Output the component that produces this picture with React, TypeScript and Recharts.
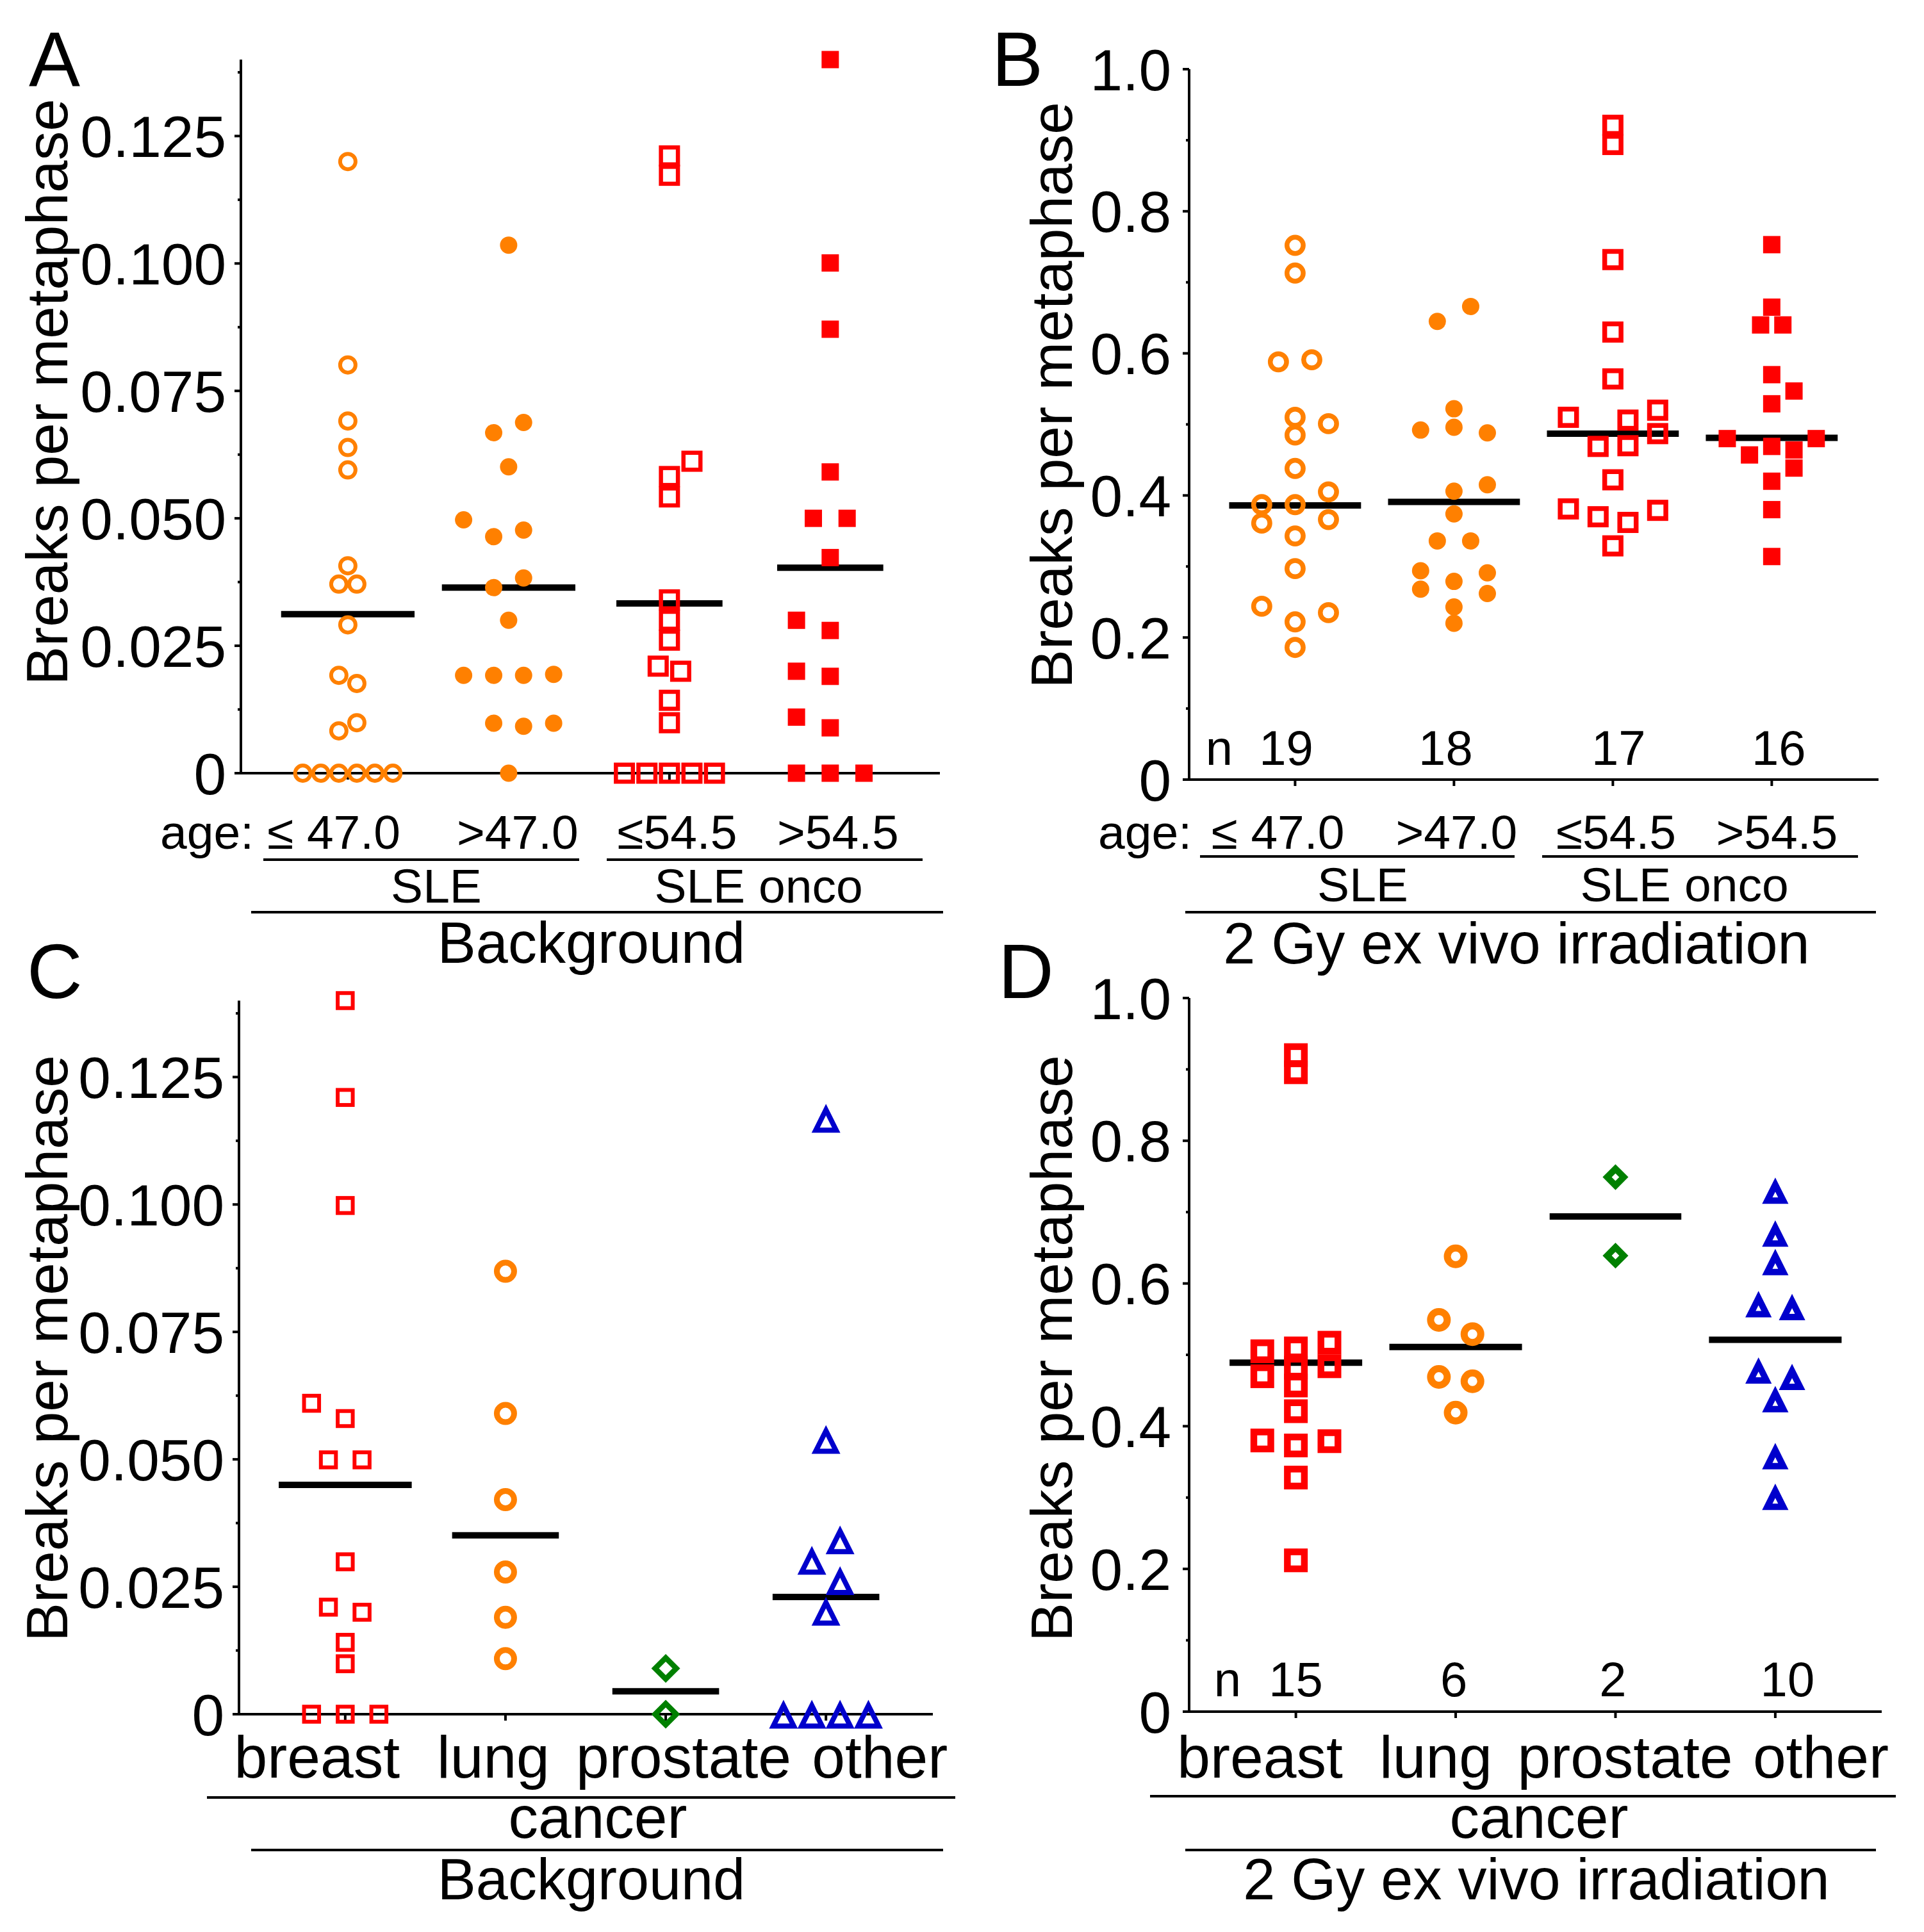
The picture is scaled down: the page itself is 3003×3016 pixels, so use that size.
import React from 'react';
import { ScatterChart, Scatter, XAxis, YAxis, ReferenceLine } from 'recharts';

const FONT = '"Liberation Sans", Arial, Helvetica, sans-serif';
const ORANGE = '#FF8000';
const RED = '#FF0000';
const GREEN = '#008000';
const BLUE = '#0000CC';

// ---------- categories & ticks ----------
const ageCategories = ['≤ 47.0', '>47.0', '≤54.5', '>54.5'];
const cancerCategories = ['breast', 'lung', 'prostate', 'other'];
const groupTicks = [1, 2, 3, 4];

const smallYTicks = [0, 0.0125, 0.025, 0.0375, 0.05, 0.0625, 0.075, 0.0875, 0.1, 0.1125, 0.125, 0.1375];
const smallYTickLabels = ['0', '', '0.025', '', '0.050', '', '0.075', '', '0.100', '', '0.125', ''];
const largeYTicks = [0, 0.1, 0.2, 0.3, 0.4, 0.5, 0.6, 0.7, 0.8, 0.9, 1.0];
const largeYTickLabels = ['0', '', '0.2', '', '0.4', '', '0.6', '', '0.8', '', '1.0'];

// ---------- Panel A: Background, SLE / SLE onco by age ----------
const aSleLow = [
  { x: 1, y: 0.12 }, { x: 1, y: 0.0801 }, { x: 1, y: 0.0691 }, { x: 1, y: 0.0639 }, { x: 1, y: 0.0595 },
  { x: 1, y: 0.0407 }, { x: 0.944, y: 0.0371 }, { x: 1.056, y: 0.0371 }, { x: 1, y: 0.0291 },
  { x: 0.944, y: 0.0192 }, { x: 1.056, y: 0.0176 }, { x: 1.056, y: 0.0099 }, { x: 0.944, y: 0.0083 },
  { x: 0.72, y: 0 }, { x: 0.832, y: 0 }, { x: 0.944, y: 0 }, { x: 1.056, y: 0 }, { x: 1.168, y: 0 }, { x: 1.28, y: 0 },
];
const aSleHigh = [
  { x: 2, y: 0.1036 }, { x: 2.093, y: 0.0688 }, { x: 1.907, y: 0.0668 }, { x: 2, y: 0.0601 }, { x: 1.72, y: 0.0497 },
  { x: 2.093, y: 0.0477 }, { x: 1.907, y: 0.0464 }, { x: 2.093, y: 0.0383 }, { x: 1.907, y: 0.0364 }, { x: 2, y: 0.03 },
  { x: 1.72, y: 0.0192 }, { x: 1.907, y: 0.0192 }, { x: 2.093, y: 0.0192 }, { x: 2.28, y: 0.0194 },
  { x: 1.907, y: 0.0098 }, { x: 2.28, y: 0.0098 }, { x: 2.093, y: 0.0092 }, { x: 2, y: 0 },
];
const aOncoLow = [
  { x: 3, y: 0.1211 }, { x: 3, y: 0.1173 }, { x: 3.14, y: 0.0612 }, { x: 3, y: 0.0582 }, { x: 3, y: 0.0542 },
  { x: 3, y: 0.034 }, { x: 3, y: 0.03 }, { x: 3, y: 0.0261 }, { x: 2.93, y: 0.021 }, { x: 3.07, y: 0.02 },
  { x: 3, y: 0.0143 }, { x: 3, y: 0.0099 },
  { x: 2.72, y: 0 }, { x: 2.86, y: 0 }, { x: 3, y: 0 }, { x: 3.14, y: 0 }, { x: 3.28, y: 0 },
];
const aOncoHigh = [
  { x: 4, y: 0.14 }, { x: 4, y: 0.1001 }, { x: 4, y: 0.0871 }, { x: 4, y: 0.0591 }, { x: 3.895, y: 0.05 },
  { x: 4.105, y: 0.05 }, { x: 4, y: 0.0423 }, { x: 3.79, y: 0.03 }, { x: 4, y: 0.028 }, { x: 3.79, y: 0.02 },
  { x: 4, y: 0.019 }, { x: 3.79, y: 0.011 }, { x: 4, y: 0.0089 }, { x: 3.79, y: 0 }, { x: 4, y: 0 }, { x: 4.21, y: 0 },
];
const aMeans = [0.0312, 0.0364, 0.0333, 0.0403];

// ---------- Panel B: 2 Gy, SLE / SLE onco by age ----------
const bSleLow = [
  { x: 1, y: 0.752 }, { x: 1, y: 0.713 }, { x: 0.895, y: 0.588 }, { x: 1.105, y: 0.591 }, { x: 1, y: 0.51 },
  { x: 1.21, y: 0.501 }, { x: 1, y: 0.485 }, { x: 1, y: 0.438 }, { x: 1.21, y: 0.405 }, { x: 0.79, y: 0.387 },
  { x: 1, y: 0.387 }, { x: 1.21, y: 0.366 }, { x: 0.79, y: 0.361 }, { x: 1, y: 0.343 }, { x: 1, y: 0.297 },
  { x: 0.79, y: 0.244 }, { x: 1.21, y: 0.235 }, { x: 1, y: 0.222 }, { x: 1, y: 0.186 },
];
const bSleHigh = [
  { x: 2.105, y: 0.666 }, { x: 1.895, y: 0.645 }, { x: 2, y: 0.522 }, { x: 2, y: 0.496 }, { x: 1.79, y: 0.492 },
  { x: 2.21, y: 0.488 }, { x: 2.21, y: 0.415 }, { x: 2, y: 0.406 }, { x: 2, y: 0.374 }, { x: 1.895, y: 0.336 },
  { x: 2.105, y: 0.336 }, { x: 1.79, y: 0.294 }, { x: 2.21, y: 0.291 }, { x: 2, y: 0.279 }, { x: 1.79, y: 0.268 },
  { x: 2.21, y: 0.262 }, { x: 2, y: 0.243 }, { x: 2, y: 0.22 },
];
const bOncoLow = [
  { x: 3, y: 0.921 }, { x: 3, y: 0.894 }, { x: 3, y: 0.732 }, { x: 3, y: 0.63 }, { x: 3, y: 0.564 },
  { x: 3.282, y: 0.52 }, { x: 2.72, y: 0.51 }, { x: 3.095, y: 0.506 }, { x: 3.282, y: 0.487 }, { x: 2.907, y: 0.469 },
  { x: 3.095, y: 0.47 }, { x: 3, y: 0.422 }, { x: 2.72, y: 0.381 }, { x: 3.282, y: 0.379 }, { x: 2.907, y: 0.37 },
  { x: 3.095, y: 0.362 }, { x: 3, y: 0.329 },
];
const bOncoHigh = [
  { x: 4, y: 0.753 }, { x: 4, y: 0.665 }, { x: 3.93, y: 0.64 }, { x: 4.07, y: 0.64 }, { x: 4, y: 0.57 },
  { x: 4.14, y: 0.547 }, { x: 4, y: 0.529 }, { x: 3.72, y: 0.48 }, { x: 4.28, y: 0.48 }, { x: 4, y: 0.469 },
  { x: 4.14, y: 0.464 }, { x: 3.86, y: 0.457 }, { x: 4.14, y: 0.4385 }, { x: 4, y: 0.42 }, { x: 4, y: 0.38 },
  { x: 4, y: 0.314 },
];
const bMeans = [0.386, 0.391, 0.487, 0.481];

// ---------- Panel C: Background, cancer types ----------
const cBreast = [
  { x: 1, y: 0.14 }, { x: 1, y: 0.121 }, { x: 1, y: 0.0998 }, { x: 0.79, y: 0.061 }, { x: 1, y: 0.058 },
  { x: 0.895, y: 0.0499 }, { x: 1.105, y: 0.0499 }, { x: 1, y: 0.0299 }, { x: 0.895, y: 0.021 }, { x: 1.105, y: 0.02 },
  { x: 1, y: 0.0141 }, { x: 1, y: 0.0099 }, { x: 0.79, y: 0 }, { x: 1, y: 0 }, { x: 1.21, y: 0 },
];
const cLung = [
  { x: 2, y: 0.0869 }, { x: 2, y: 0.059 }, { x: 2, y: 0.0421 }, { x: 2, y: 0.0279 }, { x: 2, y: 0.019 }, { x: 2, y: 0.0109 },
];
const cProstate = [{ x: 3, y: 0.009 }, { x: 3, y: 0 }];
const cOther = [
  { x: 4, y: 0.1169 }, { x: 4, y: 0.0539 }, { x: 4.088, y: 0.0342 }, { x: 3.912, y: 0.0302 }, { x: 4.088, y: 0.0262 },
  { x: 4, y: 0.0202 }, { x: 3.735, y: 0 }, { x: 3.912, y: 0 }, { x: 4.088, y: 0 }, { x: 4.265, y: 0 },
];
const cMeans = [0.045, 0.0351, 0.0045, 0.023];

// ---------- Panel D: 2 Gy, cancer types ----------
const dBreast = [
  { x: 1, y: 0.92 }, { x: 1, y: 0.896 }, { x: 1.21, y: 0.517 }, { x: 0.79, y: 0.505 }, { x: 1, y: 0.509 },
  { x: 1.21, y: 0.484 }, { x: 1, y: 0.482 }, { x: 0.79, y: 0.47 }, { x: 1, y: 0.457 }, { x: 1, y: 0.421 },
  { x: 0.79, y: 0.38 }, { x: 1.21, y: 0.379 }, { x: 1, y: 0.373 }, { x: 1, y: 0.328 }, { x: 1, y: 0.212 },
];
const dLung = [
  { x: 2, y: 0.638 }, { x: 1.895, y: 0.549 }, { x: 2.105, y: 0.529 }, { x: 1.895, y: 0.469 }, { x: 2.105, y: 0.463 }, { x: 2, y: 0.419 },
];
const dProstate = [{ x: 3, y: 0.749 }, { x: 3, y: 0.639 }];
const dOther = [
  { x: 4, y: 0.73 }, { x: 4, y: 0.67 }, { x: 4, y: 0.63 }, { x: 3.895, y: 0.571 }, { x: 4.105, y: 0.567 },
  { x: 3.895, y: 0.478 }, { x: 4.105, y: 0.469 }, { x: 4, y: 0.438 }, { x: 4, y: 0.358 }, { x: 4, y: 0.301 },
];
const dMeans = [0.489, 0.511, 0.694, 0.521];

// ---------- styling ----------
type Marker = { kind: 'circle' | 'square' | 'diamond' | 'triangle'; size: number; width: number; filled: boolean; color: string };

function renderMarker(m: Marker, cx: number, cy: number) {
  if (cx == null || cy == null || isNaN(cx) || isNaN(cy)) return <g />;
  const fill = m.filled ? m.color : 'none';
  const stroke = m.filled ? 'none' : m.color;
  const sw = m.filled ? 0 : m.width;
  if (m.kind === 'circle') {
    return <circle cx={cx} cy={cy} r={m.size} fill={fill} stroke={stroke} strokeWidth={sw} />;
  }
  if (m.kind === 'square') {
    const s = m.size;
    return <rect x={cx - s / 2} y={cy - s / 2} width={s} height={s} fill={fill} stroke={stroke} strokeWidth={sw} strokeLinejoin="miter" />;
  }
  if (m.kind === 'diamond') {
    const h = m.size;
    return (
      <path d={`M${cx},${cy - h}L${cx + h},${cy}L${cx},${cy + h}L${cx - h},${cy}Z`} fill={fill} stroke={stroke} strokeWidth={sw} strokeLinejoin="miter" />
    );
  }
  // triangle, bounding box centred on the point
  const W = m.size;
  const H = m.size;
  const theta = Math.atan(W / 2 / H);
  const ext = sw / 2 / Math.sin(theta);
  const shift = (ext - sw / 2) / 2;
  const apex = cy - H / 2 + shift;
  const base = cy + H / 2 + shift;
  return (
    <path d={`M${cx},${apex}L${cx + W / 2},${base}L${cx - W / 2},${base}Z`} fill={fill} stroke={stroke} strokeWidth={sw} strokeLinejoin="miter" strokeMiterlimit={10} />
  );
}

const makeYTick = (ticks: number[], labels: string[], gap: number, fs: number) => (props: any) => {
  const { x, y, payload } = props;
  const i = ticks.findIndex((t) => Math.abs(t - payload.value) < 1e-9);
  const label = i >= 0 ? labels[i] : '';
  const major = label !== '';
  return (
    <g>
      <line x1={x + (major ? 0 : 5)} x2={x + 10} y1={y} y2={y} stroke="#000" strokeWidth={4} />
      {major && (
        <text x={x - gap} y={y + fs * 0.358} textAnchor="end" fontSize={fs} fontFamily={FONT} fill="#000">
          {label}
        </text>
      )}
    </g>
  );
};

const makeXTick = (labels: string[], dx: number[], dy: number, fs: number) => (props: any) => {
  const { x, y, payload } = props;
  const i = Math.round(payload.value) - 1;
  return (
    <text x={x + (dx[i] || 0)} y={y + dy} textAnchor="middle" fontSize={fs} fontFamily={FONT} fill="#000">
      {labels[i]}
    </text>
  );
};

type Series = { data: { x: number; y: number }[]; marker: Marker };

type PanelProps = {
  left: number; top: number; width: number; height: number;
  margin: { top: number; right: number; bottom: number; left: number };
  xDomain: [number, number]; yDomain: [number, number];
  yTicks: number[]; yLabels: string[]; yGap: number;
  xLabels: string[]; xDx: number[]; xDy: number; xFont: number;
  series: Series[]; means: number[]; meanHalf: number[];
  showCounts?: boolean; countY?: number; countDx?: number[];
};

function Panel(p: PanelProps) {
  const counts = p.series.map((s, i) => ({ x: groupTicks[i], y: p.countY ?? 0, n: s.data.length }));
  return (
    <div style={{ position: 'absolute', left: p.left, top: p.top, width: p.width, height: p.height }}>
      <ScatterChart width={p.width} height={p.height} margin={p.margin} style={{ fontFamily: FONT }}>
        <XAxis
          type="number"
          dataKey="x"
          domain={p.xDomain}
          ticks={groupTicks}
          interval={0}
          height={100}
          tickSize={10}
          tickMargin={0}
          axisLine={{ stroke: '#000', strokeWidth: 4 }}
          tickLine={{ stroke: '#000', strokeWidth: 4 }}
          tick={makeXTick(p.xLabels, p.xDx, p.xDy, p.xFont)}
        />
        <YAxis
          type="number"
          dataKey="y"
          domain={p.yDomain}
          ticks={p.yTicks}
          interval={0}
          width={200}
          tickSize={10}
          tickMargin={0}
          axisLine={{ stroke: '#000', strokeWidth: 4 }}
          tickLine={false}
          tick={makeYTick(p.yTicks, p.yLabels, p.yGap, 91)}
        />
        {p.series.map((s, i) => (
          <Scatter
            key={'s' + i}
            data={s.data}
            isAnimationActive={false}
            shape={(props: any) => renderMarker(s.marker, props.cx, props.cy)}
          />
        ))}
        {p.means.map((m, i) => (
          <ReferenceLine
            key={'m' + i}
            segment={[{ x: groupTicks[i] - p.meanHalf[i], y: m }, { x: groupTicks[i] + p.meanHalf[i], y: m }]}
            stroke="#000"
            strokeWidth={10}
            ifOverflow="visible"
          />
        ))}
        {p.showCounts && (
          <Scatter
            data={counts}
            isAnimationActive={false}
            shape={(props: any) => {
              const i = Math.round(props.payload.x) - 1;
              return (
                <text x={props.cx + ((p.countDx && p.countDx[i]) || 0)} y={props.cy} textAnchor="middle" fontSize={76} fontFamily={FONT} fill="#000">
                  {props.payload.n}
                </text>
              );
            }}
          />
        )}
      </ScatterChart>
    </div>
  );
}

const T = (props: any) => <text fontFamily={FONT} fill="#000" {...props} />;
const L = (props: any) => <line stroke="#000" strokeWidth={4} {...props} />;

export default function App() {
  return (
    <div style={{ position: 'absolute', left: 0, top: 0, width: 3003, height: 3016, background: '#fff', overflow: 'hidden' }}>
      <Panel
        left={0} top={0} width={1500} height={1500}
        margin={{ top: 93, right: 33, bottom: 193, left: 176 }}
        xDomain={[0.335, 4.682]} yDomain={[0, 0.14]}
        yTicks={smallYTicks} yLabels={smallYTickLabels} yGap={13}
        xLabels={ageCategories} xDx={[-22, 14, 12, 12]} xDy={108} xFont={75}
        series={[
          { data: aSleLow, marker: { kind: 'circle', size: 12, width: 6, filled: false, color: ORANGE } },
          { data: aSleHigh, marker: { kind: 'circle', size: 13.5, width: 0, filled: true, color: ORANGE } },
          { data: aOncoLow, marker: { kind: 'square', size: 26.5, width: 6.5, filled: false, color: RED } },
          { data: aOncoHigh, marker: { kind: 'square', size: 27, width: 0, filled: true, color: RED } },
        ]}
        means={aMeans} meanHalf={[0.415, 0.415, 0.33, 0.33]}
      />
      <Panel
        left={1500} top={0} width={1503} height={1500}
        margin={{ top: 108, right: 71, bottom: 183, left: 156 }}
        xDomain={[0.333, 4.672]} yDomain={[0, 1]}
        yTicks={largeYTicks} yLabels={largeYTickLabels} yGap={18}
        xLabels={ageCategories} xDx={[-27, 4, 5, 8]} xDy={98} xFont={75}
        series={[
          { data: bSleLow, marker: { kind: 'circle', size: 12.7, width: 7.5, filled: false, color: ORANGE } },
          { data: bSleHigh, marker: { kind: 'circle', size: 13.5, width: 0, filled: true, color: ORANGE } },
          { data: bOncoLow, marker: { kind: 'square', size: 25.5, width: 7.5, filled: false, color: RED } },
          { data: bOncoHigh, marker: { kind: 'square', size: 27, width: 0, filled: true, color: RED } },
        ]}
        means={bMeans} meanHalf={[0.415, 0.415, 0.415, 0.415]}
        showCounts countY={0.0207} countDx={[-14, -13, 9, 11]}
      />
      <Panel
        left={0} top={1500} width={1500} height={1516}
        margin={{ top: 62, right: 44, bottom: 240, left: 173 }}
        xDomain={[0.337, 4.667]} yDomain={[0, 0.14]}
        yTicks={smallYTicks} yLabels={smallYTickLabels} yGap={13}
        xLabels={cancerCategories} xDx={[-44, -19, 28, 84]} xDy={89} xFont={93}
        series={[
          { data: cBreast, marker: { kind: 'square', size: 23.5, width: 6, filled: false, color: RED } },
          { data: cLung, marker: { kind: 'circle', size: 13.5, width: 9, filled: false, color: ORANGE } },
          { data: cProstate, marker: { kind: 'diamond', size: 16.5, width: 8.5, filled: false, color: GREEN } },
          { data: cOther, marker: { kind: 'triangle', size: 32, width: 8, filled: false, color: BLUE } },
        ]}
        means={cMeans} meanHalf={[0.415, 0.333, 0.333, 0.333]}
      />
      <Panel
        left={1500} top={1500} width={1503} height={1516}
        margin={{ top: 58, right: 66, bottom: 244, left: 156 }}
        xDomain={[0.332, 4.666]} yDomain={[0, 1]}
        yTicks={largeYTicks} yLabels={largeYTickLabels} yGap={18}
        xLabels={cancerCategories} xDx={[-56, -31, 15, 71]} xDy={93} xFont={93}
        series={[
          { data: dBreast, marker: { kind: 'square', size: 26.5, width: 10.5, filled: false, color: RED } },
          { data: dLung, marker: { kind: 'circle', size: 13, width: 11, filled: false, color: ORANGE } },
          { data: dProstate, marker: { kind: 'diamond', size: 13, width: 10, filled: false, color: GREEN } },
          { data: dOther, marker: { kind: 'triangle', size: 25, width: 10, filled: false, color: BLUE } },
        ]}
        means={dMeans} meanHalf={[0.415, 0.415, 0.412, 0.415]}
        showCounts countY={0.0215} countDx={[0, -3, -4, 19]}
      />

      <svg width={3003} height={3016} style={{ position: 'absolute', left: 0, top: 0, pointerEvents: 'none' }}>
        {/* Panel A */}
        <T x={45} y={134} fontSize={120}>A</T>
        <T x={105} y={612} fontSize={91} textAnchor="middle" transform="rotate(-90 105 612)">Breaks per metaphase</T>
        <T x={250} y={1325} fontSize={75}>age:</T>
        <L x1={411} x2={904} y1={1342} y2={1342} />
        <L x1={947} x2={1440} y1={1342} y2={1342} />
        <T x={681} y={1409} fontSize={75} textAnchor="middle">SLE</T>
        <T x={1184} y={1409} fontSize={75} textAnchor="middle">SLE onco</T>
        <L x1={392} x2={1472} y1={1424} y2={1424} />
        <T x={923} y={1503} fontSize={90} textAnchor="middle">Background</T>

        {/* Panel B */}
        <T x={1548} y={134} fontSize={120}>B</T>
        <T x={1673} y={617} fontSize={91} textAnchor="middle" transform="rotate(-90 1673 617)">Breaks per metaphase</T>
        <T x={1714} y={1325} fontSize={75}>age:</T>
        <L x1={1873} x2={2364} y1={1337} y2={1337} />
        <L x1={2407} x2={2900} y1={1337} y2={1337} />
        <T x={2127} y={1407} fontSize={75} textAnchor="middle">SLE</T>
        <T x={2629} y={1407} fontSize={75} textAnchor="middle">SLE onco</T>
        <L x1={1850} x2={2928} y1={1424} y2={1424} />
        <T x={2367} y={1504} fontSize={90} textAnchor="middle">2 Gy ex vivo irradiation</T>
        <T x={1903} y={1194} fontSize={76} textAnchor="middle">n</T>

        {/* Panel C */}
        <T x={42} y={1558} fontSize={120}>C</T>
        <T x={105} y={2105} fontSize={91} textAnchor="middle" transform="rotate(-90 105 2105)">Breaks per metaphase</T>
        <L x1={323} x2={1491} y1={2806} y2={2806} />
        <T x={933} y={2869} fontSize={93} textAnchor="middle">cancer</T>
        <L x1={392} x2={1472} y1={2888} y2={2888} />
        <T x={923} y={2965} fontSize={90} textAnchor="middle">Background</T>

        {/* Panel D */}
        <T x={1558} y={1558} fontSize={120}>D</T>
        <T x={1673} y={2105} fontSize={91} textAnchor="middle" transform="rotate(-90 1673 2105)">Breaks per metaphase</T>
        <L x1={1795} x2={2959} y1={2804} y2={2804} />
        <T x={2402} y={2869} fontSize={93} textAnchor="middle">cancer</T>
        <L x1={1850} x2={2928} y1={2888} y2={2888} />
        <T x={2398} y={2965} fontSize={90} textAnchor="middle">2 Gy ex vivo irradiation</T>
        <T x={1916} y={2648} fontSize={76} textAnchor="middle">n</T>
      </svg>
    </div>
  );
}
